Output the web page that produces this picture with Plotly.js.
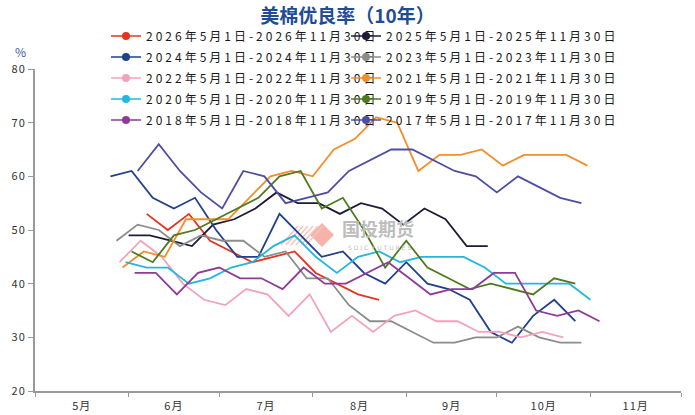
<!DOCTYPE html>
<html>
<head>
<meta charset="utf-8">
<script src="https://cdn.plot.ly/plotly-3.0.1.min.js"></script>
<style>
  body { margin: 0; background: #fff; }
  #cotton-plot { width: 695px; height: 415px; }
  /* the reference uses widely spaced characters */
  .legendtext, .legend2text { letter-spacing: 3px; }
  .xtick text, .ytick text { letter-spacing: 1px; }
</style>
</head>
<body>
<div id="cotton-plot"></div>
<script>
// weekly good/excellent ratings (%), one array per season, first Sunday of each season
var seasonNames = ['2026', '2025', '2024', '2023', '2022', '2021', '2020', '2019', '2018', '2017'];
var seasonStarts = ['2026-06-07', '2026-06-01', '2026-05-26', '2026-05-28', '2026-05-29',
                    '2026-05-30', '2026-05-31', '2026-06-02', '2026-06-03', '2026-06-04'];
var season2026 = [53, 50, 53, 48, 46, 44, 45, 46, 42, 40, 38, 37];
var season2025 = [49, 49, 48, 47, 51, 52, 54, 57, 55, 55, 53, 55, 54, 51, 54, 52, 47, 47];
var season2024 = [60, 61, 56, 54, 56, 50, 45, 45, 53, 49, 45, 46, 42, 40, 44, 40, 39, 37, 31, 29, 34, 37, 33];
var season2023 = [48, 51, 50, 47, 49, 48, 48, 45, 46, 41, 41, 36, 33, 33, 31, 29, 29, 30, 30, 32, 30, 29, 29];
var season2022 = [44, 48, 45, 40, 37, 36, 39, 38, 34, 38, 31, 34, 31, 34, 35, 33, 33, 31, 31, 30, 31, 30];
var season2021 = [43, 46, 45, 52, 52, 52, 56, 60, 61, 60, 65, 67, 71, 70, 61, 64, 64, 65, 62, 64, 64, 64, 62];
var season2020 = [44, 43, 43, 40, 41, 43, 44, 47, 49, 45, 42, 45, 46, 44, 45, 45, 45, 43, 40, 40, 40, 40, 37];
var season2019 = [46, 44, 49, 50, 52, 54, 56, 60, 61, 54, 56, 50, 43, 48, 43, 41, 39, 40, 39, 38, 41, 40];
var season2018 = [42, 42, 38, 42, 43, 41, 41, 39, 43, 40, 40, 42, 44, 41, 38, 39, 39, 42, 42, 35, 34, 35, 33];
var season2017 = [61, 66, 61, 57, 54, 61, 60, 55, 56, 57, 61, 63, 65, 65, 63, 61, 60, 57, 60, 58, 56, 55];
var seasonValues = [season2026, season2025, season2024, season2023, season2022,
                    season2021, season2020, season2019, season2018, season2017];

var seasonColors = ['#E5341F', '#1C1C38', '#1F3F8F', '#8C8C8C', '#F2A3B9',
                    '#F28E2B', '#22B7DF', '#4E7A1E', '#8E3A96', '#4D4DA3'];

var FONT = '"Noto Sans CJK SC", "Noto Sans", sans-serif';

function weekDates(start, n){
    var out = [];
    var t = Date.parse(start + 'T00:00:00Z');
    for (var i = 0; i < n; i++) {
        out.push(new Date(t + i * 7 * 86400000).toISOString().slice(0, 10));
    }
    return out;
}

function seasonLabel(y){
    return y + '年5月1日-' + y + '年11月30日';
}

// pixel position -> paper coordinates (plot area is 646 x 322, origin at 35,391)
function px(x){ return (x - 35) / 646; }
function py(y){ return (391 - y) / 322; }

var data = [];

// the lines themselves
for (var i = 0; i < seasonNames.length; i++) {
    data.push({
        x: weekDates(seasonStarts[i], seasonValues[i].length),
        y: seasonValues[i],
        type: 'scatter',
        mode: 'lines',
        line: {color: seasonColors[i], width: 1.8},
        showlegend: false,
        hoverinfo: 'skip'
    });
}

// legend entries (line + dot), split into two columns
for (var j = 0; j < seasonNames.length; j++) {
    data.push({
        x: [null],
        y: [null],
        type: 'scatter',
        mode: 'lines+markers',
        name: seasonLabel(seasonNames[j]),
        line: {color: seasonColors[j], width: 1.5},
        marker: {color: seasonColors[j], size: 8},
        legend: (j % 2 === 0) ? 'legend' : 'legend2',
        legendgroup: 'g' + j
    });
}

var legendBase = {
    y: 1.1475,
    xanchor: 'left',
    yanchor: 'top',
    orientation: 'v',
    bgcolor: 'rgba(0,0,0,0)',
    borderwidth: 0,
    tracegroupgap: 2,
    font: {family: FONT, size: 12, color: '#1a1a1a'}
};

var layout = {
    width: 695,
    height: 415,
    margin: {l: 35, r: 14, t: 69, b: 24, autoexpand: false},
    paper_bgcolor: '#ffffff',
    plot_bgcolor: '#ffffff',
    title: {
        text: '<b>美棉优良率（10年）</b>',
        x: 0.5,
        xref: 'container',
        y: 0.96,
        yref: 'container',
        yanchor: 'middle',
        font: {family: FONT, size: 19, color: '#1F4C96'}
    },
    xaxis: {
        type: 'date',
        range: ['2026-05-01', '2026-12-01'],
        dtick: 'M1',
        tick0: '2026-05-01',
        tickformat: '%-m月',
        ticklabelmode: 'period',
        showgrid: false,
        zeroline: false,
        showline: true,
        linecolor: '#9a9a9a',
        linewidth: 2,
        ticks: 'outside',
        ticklen: 4,
        tickcolor: '#9a9a9a',
        tickfont: {family: FONT, size: 11, color: '#333333'}
    },
    yaxis: {
        range: [20, 80],
        dtick: 10,
        showgrid: false,
        zeroline: false,
        showline: true,
        linecolor: '#9a9a9a',
        linewidth: 2,
        ticks: 'outside',
        ticklen: 5,
        tickcolor: '#9a9a9a',
        tickfont: {family: FONT, size: 11, color: '#333333'}
    },
    legend: Object.assign({x: px(106)}, legendBase),
    legend2: Object.assign({x: px(346)}, legendBase),
    annotations: [
        {   // unit
            text: '%', xref: 'paper', yref: 'paper', x: px(20), y: py(51),
            xanchor: 'center', yanchor: 'middle',
            showarrow: false, font: {family: FONT, size: 12, color: '#3A5BA0'}
        },
        {   // watermark
            text: '<b>国投期货</b>', xref: 'paper', yref: 'paper',
            x: px(378), y: py(228), xanchor: 'center', yanchor: 'middle',
            showarrow: false, font: {family: FONT, size: 18, color: '#BDBDBD'}
        },
        {
            text: 'S D I C  F U T U R E S', xref: 'paper', yref: 'paper',
            x: px(379), y: py(247), xanchor: 'center', yanchor: 'middle',
            showarrow: false, font: {family: 'DejaVu Sans', size: 6, color: '#BDBDBD'}
        }
    ],
    shapes: [
        {
            type: 'path', xref: 'paper', yref: 'paper', layer: 'below',
            path: 'M ' + px(310) + ' ' + py(235) +
                  ' L ' + px(322) + ' ' + py(223) +
                  ' L ' + px(334) + ' ' + py(235) +
                  ' L ' + px(322) + ' ' + py(247) + ' Z',
            fillcolor: '#F6B3AA', line: {width: 0}
        }
    ]
};

// striped part of the watermark logo
for (var s = 0; s < 6; s++) {
    var x0 = 281 + s * 5;
    layout.shapes.push({
        type: 'line', xref: 'paper', yref: 'paper', layer: 'below',
        x0: px(x0), y0: py(245),
        x1: px(x0 + 17), y1: py(226),
        line: {color: '#F8C3BC', width: 1.5}
    });
}

var additional_param = {
    displayModeBar: false,
    responsive: false
};

Plotly.newPlot('cotton-plot', data, layout, additional_param);
</script>
</body>
</html>
